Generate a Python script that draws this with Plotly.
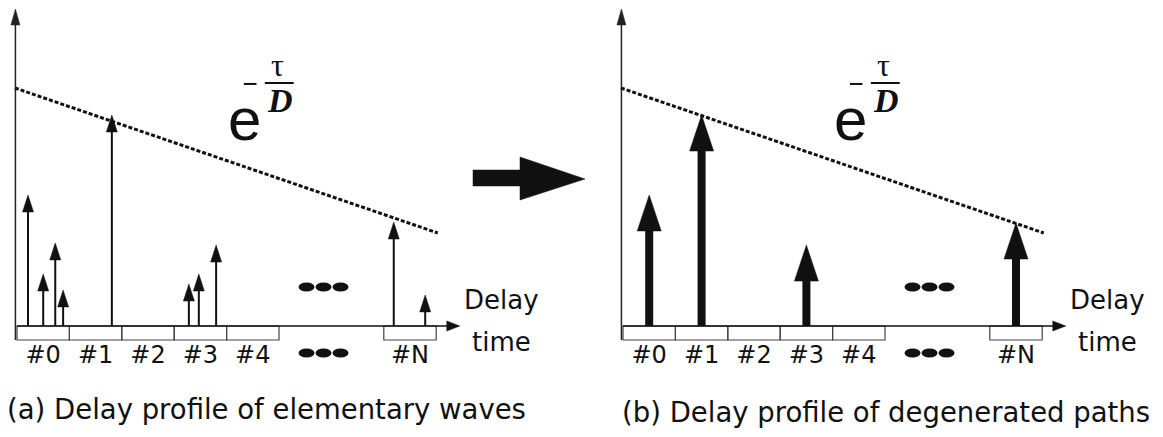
import plotly.graph_objects as go

W, H = 1163, 437

# ---------------- data ----------------
bin_starts = [0, 1, 2, 3, 4, 7]
bin_labels = ["#0", "#1", "#2", "#3", "#4", "#N"]
bin_centers = [0.5, 1.5, 2.5, 3.5, 4.5, 7.5]
gap_center = 5.85

# elementary waves: delay (in bins) and amplitude
wave_delay = [0.21, 0.50, 0.73, 0.88, 1.81, 3.28, 3.47, 3.80, 7.19, 7.79]
wave_amp = [0.552, 0.219, 0.350, 0.152, 0.889, 0.177, 0.219, 0.341, 0.438, 0.131]

# degenerated paths: one per occupied bin
path_delay = [0.5, 1.5, 3.5, 7.5]
path_amp = [0.552, 0.889, 0.341, 0.434]

# envelope e^(-tau/D)
env_delay = [-0.04, 8.03]
env_amp = [1.003, 0.392]

# ---------------- scales ----------------
SX = 52.4            # pixels per delay bin
SY = 237.3           # pixels per unit amplitude
X0 = {"x": 17, "x2": 623}   # pixel column of delay 0 in each panel
Y0 = 326                    # pixel row of amplitude 0
AXIS_TOP = 1.336
AXIS_END = 8.45
BOX_DEPTH = 14 / SY


def dx(px):
    return px / SX


def dy(px):
    return px / SY


fig = go.Figure()
shapes = []
annotations = []
INK = "#111111"


def arrow(xr, yr, x, tip, base, shaft_w, head_w, head_len, color=INK):
    top = tip - dy(head_len)
    shapes.append(dict(type="line", xref=xr, yref=yr, x0=x, x1=x, y0=base, y1=top + dy(1),
                       line=dict(color=color, width=shaft_w)))
    hw = dx(head_w / 2)
    shapes.append(dict(type="path", xref=xr, yref=yr,
                       path=f"M{x - hw},{top} L{x + hw},{top} L{x},{tip} Z",
                       fillcolor=color, line=dict(color=color, width=0.5)))


def h_arrow(xr, yr, x_start, x_tip, y, width, head_w, head_len):
    x_base = x_tip - dx(head_len)
    shapes.append(dict(type="line", xref=xr, yref=yr, x0=x_start, x1=x_base + dx(1), y0=y, y1=y,
                       line=dict(color=INK, width=width)))
    hh = dy(head_w / 2)
    shapes.append(dict(type="path", xref=xr, yref=yr,
                       path=f"M{x_base},{y - hh} L{x_base},{y + hh} L{x_tip},{y} Z",
                       fillcolor=INK, line=dict(color=INK, width=0.5)))


def pills(xr, yr, xc, yc):
    for k in (-1, 0, 1):
        cx = xc + dx(17 * k)
        shapes.append(dict(type="circle", xref=xr, yref=yr,
                           x0=cx - dx(8), x1=cx + dx(8), y0=yc - dy(4.5), y1=yc + dy(4.5),
                           fillcolor=INK, line=dict(width=0)))


def panel(xr, yr):
    # bin boxes under the delay axis
    for b in bin_starts:
        shapes.append(dict(type="rect", xref=xr, yref=yr, x0=b, x1=b + 1, y0=-BOX_DEPTH, y1=0,
                           line=dict(color="#444444", width=1.2)))
    # amplitude axis
    arrow(xr, yr, -0.03, AXIS_TOP, -BOX_DEPTH, 1.5, 9, 16, color="#222222")
    # delay axis
    h_arrow(xr, yr, 0, AXIS_END, 0, 1.6, 10, 13)
    # envelope
    fig.add_trace(go.Scatter(x=env_delay, y=env_amp, mode="lines", xaxis=xr, yaxis=yr,
                             line=dict(color=INK, width=3, dash="4px,2px"),
                             hoverinfo="skip", showlegend=False))
    # e^{-tau/D}
    annotations.append(dict(xref=xr, yref=yr, x=4.35, y=0.87, text="e", showarrow=False,
                            font=dict(family="Liberation Sans, Arial", size=60, color=INK),
                            xanchor="center", yanchor="middle"))
    shapes.append(dict(type="line", xref=xr, yref=yr, x0=4.33, x1=4.57, y0=1.02, y1=1.02,
                       line=dict(color=INK, width=2)))
    shapes.append(dict(type="line", xref=xr, yref=yr, x0=4.73, x1=5.28, y0=1.024, y1=1.024,
                       line=dict(color=INK, width=2)))
    annotations.append(dict(xref=xr, yref=yr, x=4.97, y=1.10, text="τ", showarrow=False,
                            font=dict(family="Liberation Serif, Times New Roman", size=32, color=INK),
                            xanchor="center", yanchor="middle"))
    annotations.append(dict(xref=xr, yref=yr, x=5.02, y=0.95, text="<b><i>D</i></b>", showarrow=False,
                            font=dict(family="Liberation Serif, Times New Roman", size=34, color=INK),
                            xanchor="center", yanchor="middle"))
    # axis caption
    annotations.append(dict(xref=xr, yref=yr, x=9.25, y=0.11, text="Delay", showarrow=False,
                            font=dict(family="DejaVu Sans", size=26, color=INK),
                            xanchor="center", yanchor="middle"))
    annotations.append(dict(xref=xr, yref=yr, x=9.25, y=-0.068, text="time", showarrow=False,
                            font=dict(family="DejaVu Sans", size=26, color=INK),
                            xanchor="center", yanchor="middle"))
    # ellipsis marks
    pills(xr, yr, gap_center, dy(Y0 - 287))
    pills(xr, yr, gap_center, -dy(353 - Y0))


panel("x", "y")
for d, a in zip(wave_delay, wave_amp):
    arrow("x", "y", d, a, 0, 2, 11, 17)

panel("x2", "y2")
for d, a in zip(path_delay, path_amp):
    arrow("x2", "y2", d, a, 0, 8, 24, 36)

# transition arrow between the panels
big = [(473, 170), (520, 170), (520, 157), (585, 179), (520, 200), (520, 186), (473, 186)]
shapes.append(dict(type="path", xref="paper", yref="paper",
                   path="M" + " L".join(f"{px / W},{1 - py / H}" for px, py in big) + " Z",
                   fillcolor=INK, line=dict(color=INK, width=0.5)))

# panel captions
annotations.append(dict(xref="paper", yref="paper", x=5 / W, y=1 - 409 / H,
                        text="(a) Delay profile of elementary waves", showarrow=False,
                        font=dict(family="DejaVu Sans", size=27.5, color=INK),
                        xanchor="left", yanchor="middle"))
annotations.append(dict(xref="paper", yref="paper", x=620 / W, y=1 - 412 / H,
                        text="(b) Delay profile of degenerated paths", showarrow=False,
                        font=dict(family="DejaVu Sans", size=27.5, color=INK),
                        xanchor="left", yanchor="middle"))

y_range = [(Y0 - H) / SY, Y0 / SY]
xaxis_common = dict(tickvals=bin_centers, ticktext=bin_labels, ticks="", showline=False,
                    showgrid=False, zeroline=False, anchor="free", position=(H - Y0) / H,
                    tickfont=dict(family="DejaVu Sans", size=24, color=INK),
                    ticklabelstandoff=12, fixedrange=True)
yaxis_common = dict(range=y_range, visible=False, showgrid=False, zeroline=False,
                    domain=[0, 1], fixedrange=True)

fig.update_layout(
    width=W, height=H,
    margin=dict(l=0, r=0, t=0, b=0),
    paper_bgcolor="white", plot_bgcolor="white",
    showlegend=False,
    xaxis=dict(domain=[0, 0.5], range=[-X0["x"] / SX, (W / 2 - X0["x"]) / SX], **xaxis_common),
    xaxis2=dict(domain=[0.5, 1], range=[(W / 2 - X0["x2"]) / SX, (W - X0["x2"]) / SX], **xaxis_common),
    yaxis=dict(anchor="x", **yaxis_common),
    yaxis2=dict(anchor="x2", **yaxis_common),
    shapes=shapes,
    annotations=annotations,
)

fig.write_html("out.html", config={"displayModeBar": False})
